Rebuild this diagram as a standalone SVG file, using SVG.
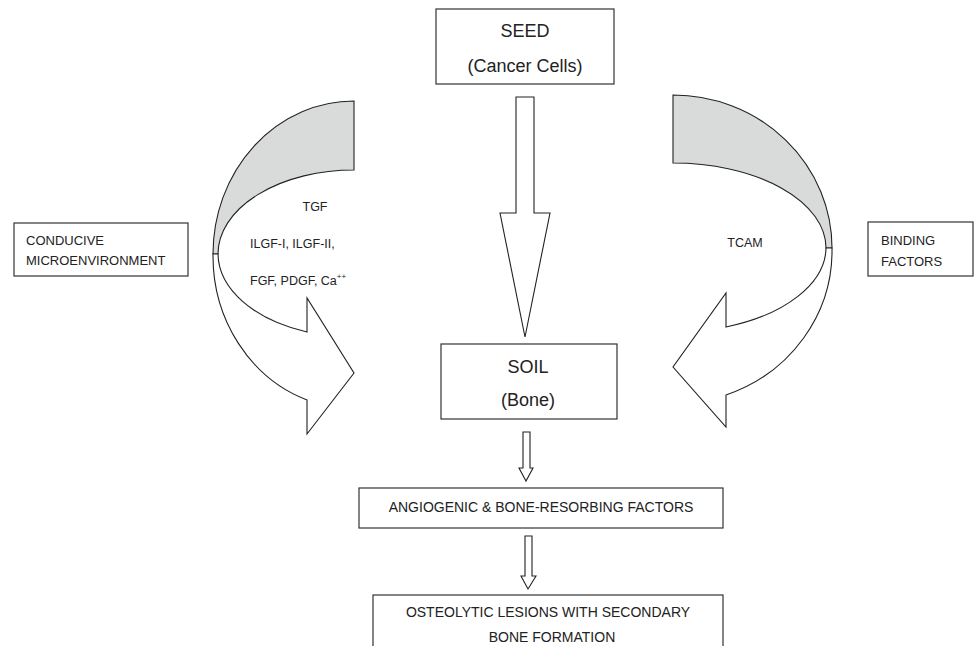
<svg xmlns="http://www.w3.org/2000/svg" width="974" height="646" viewBox="0 0 974 646">
<style>
.box{fill:#fff;stroke:#333;stroke-width:1.2}
.ar{fill:#fff;stroke:#222;stroke-width:1.1;stroke-linejoin:miter}
.back{fill:#d9dbda;stroke:#222;stroke-width:1.1}
.t{font-family:"Liberation Sans",Arial,sans-serif;fill:#222}
.big{font-size:18px}
.mid{font-size:14px}
.sm{font-size:13px}
.xs{font-size:12.5px}
</style>
<rect width="974" height="646" fill="#fff"/>
<g id="connectors">
  <g id="curved-left">
    <path class="back" d="M354,101 A141,153 0 0 0 213,254 L218,254 A136,84 0 0 1 354,170 Z"/>
    <path class="ar" d="M218,254 A136,84 0 0 0 307,332 L307,298 L354,373 L307,434 L307,400 A141,153 0 0 1 213,254 Z"/>
  </g>
  <g id="curved-right">
    <path class="back" d="M673,95 A159,153 0 0 1 832,248 L826,248 A153,85 0 0 0 673,163 Z"/>
    <path class="ar" d="M826,248 A153,85 0 0 1 726,327 L726,293 L673,367 L726,427 L726,395 A159,153 0 0 0 832,248 Z"/>
  </g>
  <path id="arrow-seed-soil" class="ar" d="M516,97 L534,97 L534,213 L550,213 L525,337 L500,213 L516,213 Z"/>
  <path id="arrow-soil-factors" class="ar" d="M523,432 L530,432 L530,468 L533,468 L526,481 L519,468 L523,468 Z"/>
  <path id="arrow-factors-lesions" class="ar" d="M525,536 L532,536 L532,576 L536,576 L528,589 L521,576 L525,576 Z"/>
</g>
<g id="seed">
  <rect class="box" x="436" y="9" width="178" height="75"/>
  <text class="t big" x="525" y="37" text-anchor="middle">SEED</text>
  <text class="t big" x="525" y="72" text-anchor="middle">(Cancer Cells)</text>
</g>
<g id="soil">
  <rect class="box" x="441" y="344" width="176" height="75"/>
  <text class="t big" x="528" y="373" text-anchor="middle">SOIL</text>
  <text class="t big" x="528" y="406" text-anchor="middle">(Bone)</text>
</g>
<g id="factors">
  <rect class="box" x="359" y="488" width="364" height="40"/>
  <text class="t mid" x="541" y="512" text-anchor="middle">ANGIOGENIC &amp; BONE-RESORBING FACTORS</text>
</g>
<g id="lesions">
  <rect class="box" x="373" y="595" width="350" height="60"/>
  <text class="t mid" x="548" y="617" text-anchor="middle">OSTEOLYTIC LESIONS WITH SECONDARY</text>
  <text class="t mid" x="552" y="642" text-anchor="middle">BONE FORMATION</text>
</g>
<g id="conducive">
  <rect class="box" x="14" y="223" width="174" height="53"/>
  <text class="t sm" x="26" y="245">CONDUCIVE</text>
  <text class="t sm" x="26" y="265">MICROENVIRONMENT</text>
</g>
<g id="binding">
  <rect class="box" x="868" y="222" width="105" height="54"/>
  <text class="t sm" x="881" y="245">BINDING</text>
  <text class="t sm" x="881" y="266">FACTORS</text>
</g>
<g id="left-labels">
  <text class="t xs" x="315" y="211" text-anchor="middle">TGF</text>
  <text class="t xs" x="250" y="248">ILGF-I, ILGF-II,</text>
  <text class="t xs" x="250" y="285">FGF, PDGF, Ca<tspan dy="-6" font-size="8">++</tspan></text>
</g>
<g id="right-labels">
  <text class="t xs" x="745" y="247" text-anchor="middle">TCAM</text>
</g>
</svg>
